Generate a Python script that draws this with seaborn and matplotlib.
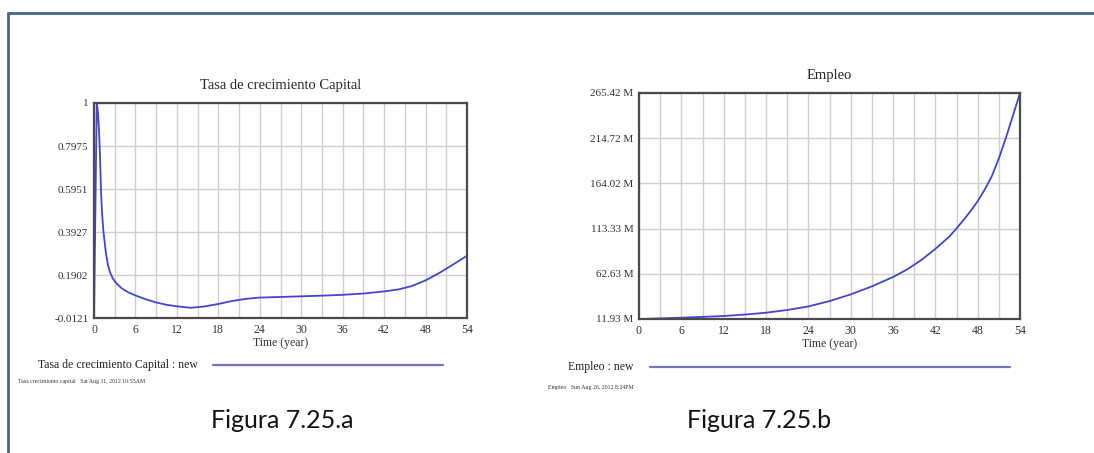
import numpy as np
import pandas as pd
import matplotlib
matplotlib.use("Agg")
import matplotlib.pyplot as plt
from matplotlib.lines import Line2D
from matplotlib.ticker import MultipleLocator, FixedLocator
import seaborn as sns

# Tasa de crecimiento Capital
cap_time = [0, 0.4, 0.6, 0.75, 0.85, 1.0, 1.15, 1.35, 1.7, 2.0, 2.3, 2.7, 3.2, 4, 5, 6, 7.5,
            9, 10.5, 12, 14, 16, 18, 20, 22, 24, 27, 30, 33, 36, 39, 42, 44, 46, 48, 50, 52, 54]
cap_rate = [-0.0121, 1.0, 0.95, 0.85, 0.77, 0.6, 0.49, 0.4, 0.3, 0.24, 0.205, 0.175, 0.152,
            0.128, 0.108, 0.094, 0.076, 0.061, 0.05, 0.043, 0.036, 0.042, 0.054, 0.068,
            0.078, 0.084, 0.087, 0.09, 0.093, 0.097, 0.103, 0.113, 0.122, 0.138, 0.165,
            0.2, 0.24, 0.281]
cap_yticks = [-0.0121, 0.1902, 0.3927, 0.5951, 0.7975, 1.0]
cap_ylabels = ["-0.0121", "0.1902", "0.3927", "0.5951", "0.7975", "1"]

# Empleo, in millions
emp_time = [0, 3, 6, 9, 12, 15, 18, 21, 24, 27, 30, 33, 36, 38, 40, 42, 44, 45, 46, 47, 48,
            49, 50, 51, 52, 53, 54]
emp_value = [11.93, 12.6, 13.4, 14.3, 15.3, 16.9, 19.0, 22.0, 26.0, 32.0, 39.5, 48.5, 59.0,
             67.5, 78.0, 90.5, 104.5, 113.5, 123.0, 133.0, 144.0, 157.0, 172.0, 192.0,
             215.0, 240.0, 265.42]
emp_yticks = [11.93, 62.63, 113.33, 164.02, 214.72, 265.42]
emp_ylabels = ["11.93 M", "62.63 M", "113.33 M", "164.02 M", "214.72 M", "265.42 M"]

x_ticks = list(range(0, 55, 6))

LINE = "#4444d4"
LEG = "#7474c4"
SERIF = "Liberation Serif"

sns.set_style("white")
plt.rcParams["font.family"] = ["DejaVu Sans"]

fig = plt.figure(figsize=(10.94, 4.53), dpi=100)
W, H = 1094, 453


def box(x0, y0, x1, y1):
    return [x0 / W, 1 - y1 / H, (x1 - x0) / W, (y1 - y0) / H]


def style_axes(ax, yticks, ylabels, ylim):
    ax.set_xlim(0, 54)
    ax.set_ylim(*ylim)
    ax.xaxis.set_major_locator(FixedLocator(x_ticks))
    ax.xaxis.set_minor_locator(MultipleLocator(3))
    ax.set_yticks(yticks)
    ax.set_yticklabels(ylabels, family=SERIF, fontsize=8, color="#333333")
    ax.set_xticklabels([str(t) for t in x_ticks], family=SERIF, fontsize=8.5, color="#333333")
    ax.grid(True, which="both", axis="x", color="#cfcfcf", lw=1)
    ax.grid(True, which="major", axis="y", color="#cfcfcf", lw=1)
    ax.tick_params(which="both", length=0, pad=4)
    for s in ax.spines.values():
        s.set_color("#4a4a4a")
        s.set_linewidth(1.6)
    ax.set_xlabel("Time (year)", family=SERIF, fontsize=8.5, color="#333333", labelpad=1)
    ax.set_ylabel("")


df_cap = pd.DataFrame({"time": cap_time, "rate": cap_rate})
ax1 = fig.add_axes(box(94, 103, 467, 318))
sns.lineplot(data=df_cap, x="time", y="rate", ax=ax1, color=LINE, lw=1.3)
style_axes(ax1, cap_yticks, cap_ylabels, (-0.0121, 1.0))
ax1.set_title("Tasa de crecimiento Capital", family=SERIF, fontsize=10.5, pad=10)

df_emp = pd.DataFrame({"time": emp_time, "empleo": emp_value})
ax2 = fig.add_axes(box(639, 93, 1020, 319))
sns.lineplot(data=df_emp, x="time", y="empleo", ax=ax2, color=LINE, lw=1.3)
style_axes(ax2, emp_yticks, emp_ylabels, (11.93, 265.42))
ax2.set_title("Empleo", family=SERIF, fontsize=10.5, pad=10)

# legend rows and footers (Vensim style)
fig.text(38 / W, 1 - 365 / H, "Tasa de crecimiento Capital : new", family=SERIF,
         fontsize=8.5, va="center", color="#222222")
fig.add_artist(Line2D([213 / W, 443 / W], [1 - 365 / H] * 2, color=LEG, lw=1.6))
fig.text(18 / W, 1 - 382 / H, "Tasa crecimiento capital   Sat Aug 11, 2012 10:55AM",
         family=SERIF, fontsize=4.2, va="center", color="#333333")

fig.text(568 / W, 1 - 367 / H, "Empleo : new", family=SERIF,
         fontsize=8.5, va="center", color="#222222")
fig.add_artist(Line2D([650 / W, 1010 / W], [1 - 367 / H] * 2, color=LEG, lw=1.6))
fig.text(548 / W, 1 - 387 / H, "Empleo   Sun Aug 26, 2012 8:24PM",
         family=SERIF, fontsize=4.2, va="center", color="#333333")

fig.text(282 / W, 1 - 421 / H, "Figura 7.25.a", family="Lato", fontsize=18,
         ha="center", va="center", color="#111111")
fig.text(759 / W, 1 - 421 / H, "Figura 7.25.b", family="Lato", fontsize=18,
         ha="center", va="center", color="#111111")

# slide frame
frame = "#4a6589"
fig.add_artist(Line2D([8 / W, 1], [1 - 13 / H] * 2, color=frame, lw=2))
fig.add_artist(Line2D([8 / W, 8 / W], [0, 1 - 13 / H], color=frame, lw=2))

fig.savefig("out.png", dpi=100, facecolor="white")
